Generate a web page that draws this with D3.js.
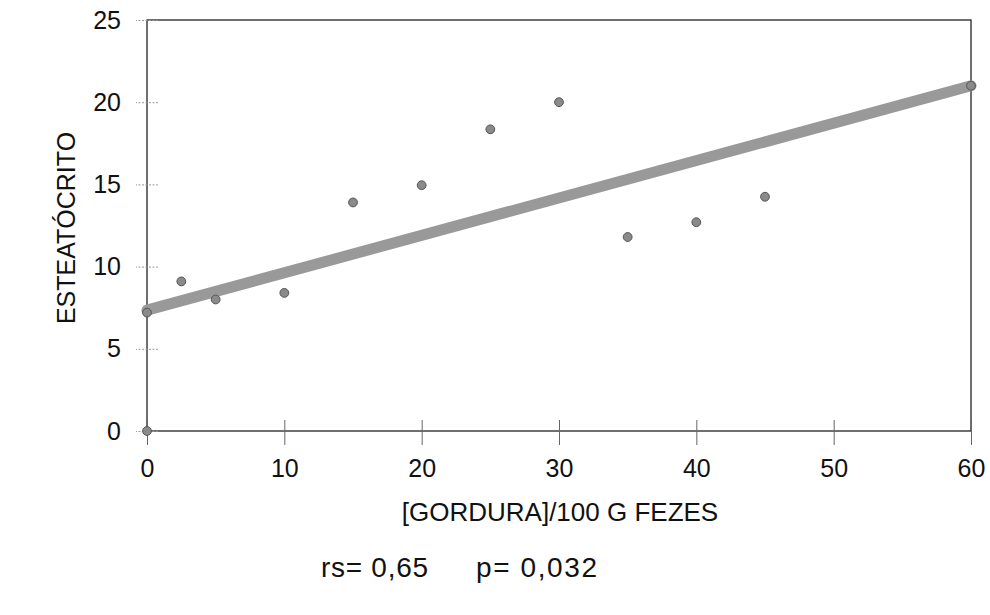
<!DOCTYPE html>
<html>
<head>
<meta charset="utf-8">
<script src="https://cdn.jsdelivr.net/npm/d3@7"></script>
<style>
  body { margin: 0; background: #fff; }
  text { font-family: "Liberation Sans", Arial, sans-serif; fill: #111; }
</style>
</head>
<body>
<div id="chart"></div>
<script>
// data
const gordura = [0, 0, 2.5, 5, 10, 15, 20, 25, 30, 35, 40, 45, 60];
const esteatocrito = [0, 7.2, 9.1, 8.0, 8.4, 13.9, 14.95, 18.35, 20.0, 11.8, 12.7, 14.25, 21.0];
const fitX = [0, 60];
const fitY = [7.35, 21.0];
const xTicks = [0, 10, 20, 30, 40, 50, 60];
const yTicks = [0, 5, 10, 15, 20, 25];

let width = 990;
let height = 615;

let x = d3.scaleLinear().domain([0, 60]).range([147, 971]);
let y = d3.scaleLinear().domain([0, 25]).range([431, 20]);

let svg = d3.select("#chart")
            .append("svg")
            .attr("width", width)
            .attr("height", height);

// frame
svg.append("rect")
   .attr("x", x(0))
   .attr("y", y(25))
   .attr("width", x(60) - x(0))
   .attr("height", y(0) - y(25))
   .attr("fill", "none")
   .attr("stroke", "#222")
   .attr("stroke-width", 1.3);

// x axis
let xAxis = svg.append("g")
               .attr("transform", `translate(0,${y(0)})`)
               .call(d3.axisBottom(x).tickValues(xTicks).tickSize(14).tickPadding(14));
xAxis.select(".domain").remove();
xAxis.selectAll("line").attr("y1", -11).attr("stroke", "#666");
xAxis.selectAll("text")
     .style("font-size", "25px")
     .style("font-family", "Liberation Sans, Arial, sans-serif")
     .attr("fill", "#111");

// y axis
let yAxis = svg.append("g")
               .attr("transform", `translate(${x(0)},0)`)
               .call(d3.axisLeft(y).tickValues(yTicks).tickSize(11).tickPadding(15));
yAxis.select(".domain").remove();
yAxis.selectAll("line")
     .attr("x1", 11)
     .attr("stroke", "#999")
     .attr("stroke-dasharray", "2,1.5");
yAxis.selectAll("text")
     .style("font-size", "25px")
     .style("font-family", "Liberation Sans, Arial, sans-serif")
     .attr("fill", "#111");

// regression line
let fit = fitX.map(function(d, i) { return [d, fitY[i]]; });
svg.append("path")
   .datum(fit)
   .attr("d", d3.line().x(function(d) { return x(d[0]); }).y(function(d) { return y(d[1]); }))
   .attr("stroke", "#999")
   .attr("stroke-width", 11)
   .attr("stroke-linecap", "round")
   .attr("fill", "none");

// points
svg.append("g")
   .selectAll("circle")
   .data(gordura)
   .enter()
   .append("circle")
   .attr("cx", function(d) { return x(d); })
   .attr("cy", function(d, i) { return y(esteatocrito[i]); })
   .attr("r", 4.4)
   .attr("fill", "#8a8a8a")
   .attr("stroke", "#555")
   .attr("stroke-width", 1);

// labels
svg.append("text")
   .attr("x", 560)
   .attr("y", 521)
   .attr("text-anchor", "middle")
   .style("font-size", "26px")
   .text("[GORDURA]/100 G FEZES");

svg.append("text")
   .attr("transform", "translate(75,228) rotate(-90)")
   .attr("text-anchor", "middle")
   .style("font-size", "25px")
   .text("ESTEATÓCRITO");

svg.append("text")
   .attr("x", 321)
   .attr("y", 577)
   .attr("textLength", 107)
   .style("font-size", "28px")
   .text("rs= 0,65");

svg.append("text")
   .attr("x", 476)
   .attr("y", 577)
   .attr("textLength", 121)
   .style("font-size", "28px")
   .text("p= 0,032");
</script>
</body>
</html>
